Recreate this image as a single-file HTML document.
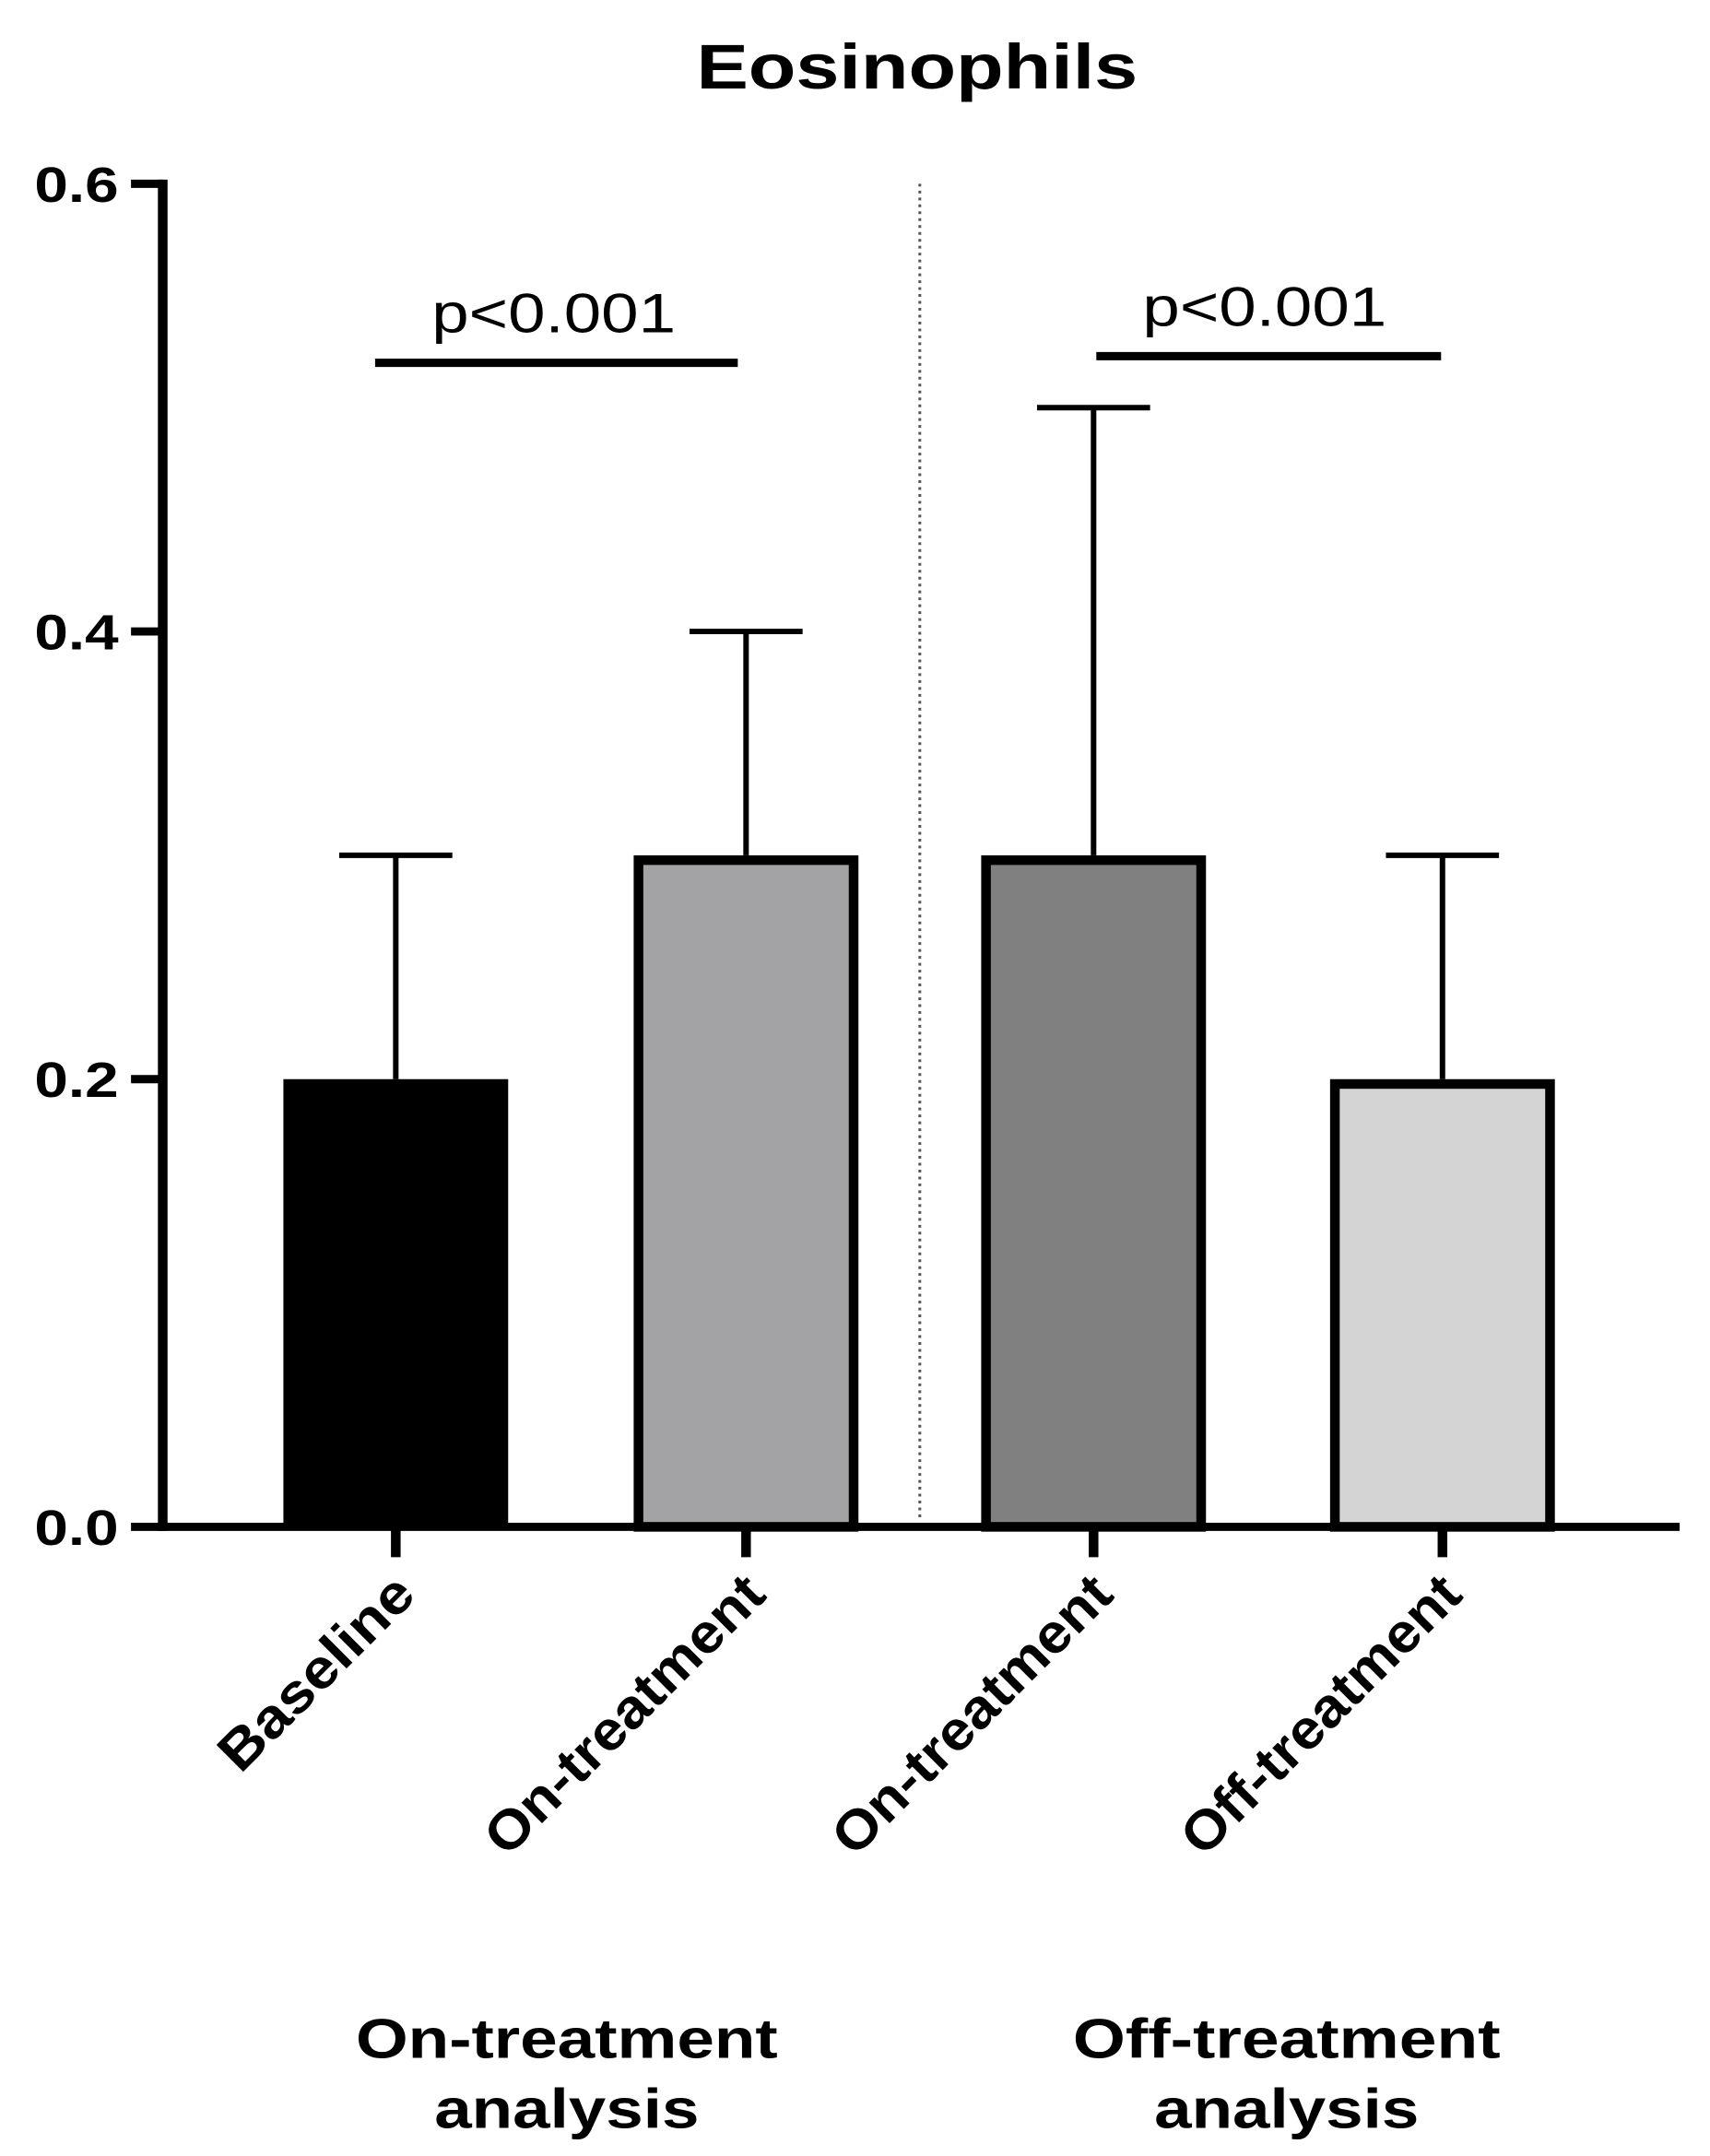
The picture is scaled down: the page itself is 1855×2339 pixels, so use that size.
<!DOCTYPE html>
<html><head><meta charset="utf-8"><style>
html,body{margin:0;padding:0;background:#fff;}
svg{display:block;}
text{font-family:"Liberation Sans",Arial,sans-serif;fill:#000;}
</style></head><body>
<svg id="chart" width="1855" height="2339" viewBox="0 0 1240 1563" xmlns="http://www.w3.org/2000/svg">
<text x="665" y="64" font-size="46" font-weight="bold" text-anchor="middle" textLength="320" lengthAdjust="spacingAndGlyphs">Eosinophils</text>
<g id="plot"></g>
<text x="411" y="1492" font-size="40" font-weight="bold" text-anchor="middle" textLength="306" lengthAdjust="spacingAndGlyphs">On-treatment</text>
<text x="411" y="1543" font-size="40" font-weight="bold" text-anchor="middle" textLength="192" lengthAdjust="spacingAndGlyphs">analysis</text>
<text x="933" y="1492" font-size="40" font-weight="bold" text-anchor="middle" textLength="310" lengthAdjust="spacingAndGlyphs">Off-treatment</text>
<text x="933" y="1543" font-size="40" font-weight="bold" text-anchor="middle" textLength="192" lengthAdjust="spacingAndGlyphs">analysis</text>
</svg>
<script>
const categories = ["Baseline", "On-treatment", "On-treatment", "Off-treatment"];
const means = [0.2, 0.3, 0.3, 0.2];
const errors = [0.1, 0.1, 0.2, 0.1];
const fills = ["#000000", "#a3a3a6", "#808080", "#d4d4d4"];
const yTicks = [0.0, 0.2, 0.4, 0.6];
const yTickLabels = ["0.0", "0.2", "0.4", "0.6"];
const sigLabels = ["p<0.001", "p<0.001"];
const sigLevels = [0.52, 0.523];

const NS = "http://www.w3.org/2000/svg";
const g = document.getElementById("plot");
const X0 = 118, X1 = 1218, Y0 = 1107, Y1 = 133, YMAX = 0.6;
const yScale = v => Y0 - (v / YMAX) * (Y0 - Y1);
const centers = [287, 541, 793, 1046];
const xScale = i => centers[i];
const barW = 163;
function el(tag, attrs, parent) {
  const e = document.createElementNS(NS, tag);
  for (const k in attrs) e.setAttribute(k, attrs[k]);
  (parent || g).appendChild(e);
  return e;
}
let d = el("line", {x1: 667, y1: 133, x2: 667, y2: 1100, stroke: "#555", "stroke-width": 2, "stroke-dasharray": "2,3"});


categories.forEach((c, i) => {
  const cx = xScale(i), top = yScale(means[i]), et = yScale(means[i] + errors[i]);
  const eb = el("line", {x1: cx, y1: top, x2: cx, y2: et, stroke: "#000", "stroke-width": 4});
  
  
  const cap = el("line", {x1: cx - 41, y1: et, x2: cx + 41, y2: et, stroke: "#000", "stroke-width": 4});
  
  
  const sw = i === 0 ? 0 : 7;
  const r = el("rect", {x: cx - barW / 2 + sw / 2, y: top + sw / 2, width: barW - sw, height: Y0 - top - sw / 2, fill: fills[i], stroke: "#000", "stroke-width": sw});
  
  
  const t = el("line", {x1: cx, y1: Y0, x2: cx, y2: 1129, stroke: "#000", "stroke-width": 7});
  
  
  const len = c.length <= 8 ? 182 : 268;
  const lbl = el("text", {x: 0, y: 0, "font-size": 40, "font-weight": "bold", "text-anchor": "end", textLength: len, lengthAdjust: "spacingAndGlyphs", transform: "translate(" + (cx + 16) + ",1158) rotate(-45)"});
  lbl.textContent = c;
  
  
});
const ya = el("line", {x1: X0, y1: Y1 - 3, x2: X0, y2: Y0 + 3, stroke: "#000", "stroke-width": 7});


const xa = el("line", {x1: X0 - 3, y1: Y0, x2: X1, y2: Y0, stroke: "#000", "stroke-width": 6});


yTicks.forEach((v, i) => {
  const y = yScale(v);
  const t = el("line", {x1: 95, y1: y, x2: X0, y2: y, stroke: "#000", "stroke-width": 6});
  
  
  const l = el("text", {x: 86, y: y + 13, "font-size": 36, "font-weight": "bold", "text-anchor": "end", textLength: 61, lengthAdjust: "spacingAndGlyphs"});
  l.textContent = yTickLabels[i];
  
  
});
const sigX = [[272, 535], [795, 1045]];
sigLabels.forEach((s, i) => {
  const y = yScale(sigLevels[i]);
  const ln = el("line", {x1: sigX[i][0], y1: y, x2: sigX[i][1], y2: y, stroke: "#000", "stroke-width": 6});
  
  
  const tx = el("text", {x: (sigX[i][0] + sigX[i][1]) / 2 - (i === 0 ? 2 : 3), y: y - 22, "font-size": 40, "text-anchor": "middle", textLength: 177, lengthAdjust: "spacingAndGlyphs"});
  tx.textContent = s;
  
  
});
</script>
</body></html>
